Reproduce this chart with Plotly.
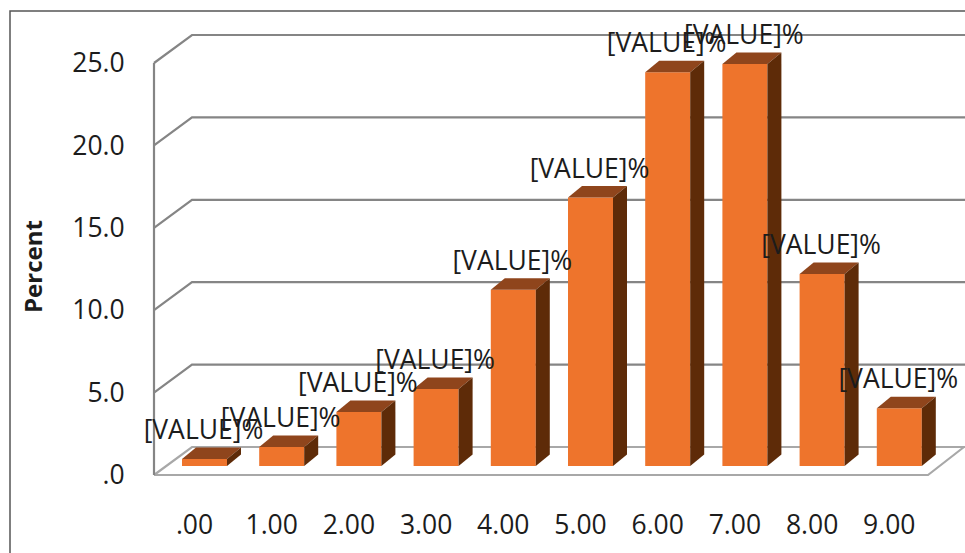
import plotly.graph_objects as go

categories = [".00", "1.00", "2.00", "3.00", "4.00", "5.00", "6.00", "7.00", "8.00", "9.00"]
percent = [0.42, 1.15, 3.28, 4.67, 10.7, 16.3, 23.9, 24.4, 11.65, 3.5]
label_text = "[VALUE]%"
y_ticks = [0, 5, 10, 15, 20, 25]
y_tick_labels = [".0", "5.0", "10.0", "15.0", "20.0", "25.0"]

W, H = 965, 553
L, R, T, B = 154, 928, 63, 475  # front plane, window pixels
X_STEP = 77.2          # px per category
Y_UNIT = (B - T) / 25  # px per percent
X0_PX = 192            # px of category 0 on the front plane
x_range = [-X0_PX / X_STEP, (W - X0_PX) / X_STEP]
y_range = [(B - H) / Y_UNIT, B / Y_UNIT]
x_left, x_right = (L - X0_PX) / X_STEP, (R - X0_PX) / X_STEP
x_end = (964 - X0_PX) / X_STEP
positions = list(range(len(categories)))
tick_positions = [p + 2.5 / X_STEP for p in positions]

# depth offsets, in data units
wall_dx, wall_dy = 38 / X_STEP, 28 / Y_UNIT
bar_dx, bar_base = 12.5 / X_STEP, 9 / Y_UNIT
bar_w = 45 / X_STEP
face_dx, face_dy = 14 / X_STEP, 11.5 / Y_UNIT

FONT = "Open Sans"
TXT = "#1c1c1c"
fig = go.Figure()

# wall gridlines (underlying axes)
for v in y_ticks:
    col = "#a8a8a8" if v == 0 else "#858585"
    fig.add_trace(go.Scatter(
        x=[x_left, x_left + wall_dx, x_end + 0.02], y=[v, v + wall_dy, v + wall_dy],
        mode="lines", line=dict(color=col, width=2.2),
        hoverinfo="skip", showlegend=False))
fig.add_trace(go.Scatter(
    x=[x_end, x_right, x_left], y=[wall_dy, 0, 0],
    mode="lines", line=dict(color="#a8a8a8", width=2.2),
    hoverinfo="skip", showlegend=False))
fig.add_trace(go.Scatter(
    x=[x_left, x_left], y=[0, 25],
    mode="lines", line=dict(color="#858585", width=2.2),
    hoverinfo="skip", showlegend=False))

# bars on an overlaying pair of axes so they cover the walls
bar_x = [p + bar_dx for p in positions]
fig.add_trace(go.Bar(
    x=bar_x, y=percent, base=[bar_base] * len(percent), width=bar_w,
    marker=dict(color="#ee742c", line=dict(width=0)),
    xaxis="x2", yaxis="y2", showlegend=False))
for x, v in zip(bar_x, percent):
    xl, xe = x - bar_w / 2, x + bar_w / 2
    top = bar_base + v
    fig.add_trace(go.Scatter(
        x=[xl, xl + face_dx, xe + face_dx, xe, xl],
        y=[top, top + face_dy, top + face_dy, top, top],
        mode="lines", fill="toself", fillcolor="#8f451c", line=dict(width=0),
        xaxis="x2", yaxis="y2", hoverinfo="skip", showlegend=False))
    fig.add_trace(go.Scatter(
        x=[xe, xe + face_dx, xe + face_dx, xe, xe],
        y=[top, top + face_dy, bar_base + face_dy, bar_base, top],
        mode="lines", fill="toself", fillcolor="#5e2b08", line=dict(width=0),
        xaxis="x2", yaxis="y2", hoverinfo="skip", showlegend=False))

fig.add_trace(go.Scatter(
    x=[x - 1 / X_STEP for x in bar_x], y=[bar_base + v + 26.5 / Y_UNIT for v in percent],
    mode="text", text=[label_text] * len(percent), textposition="middle center",
    textfont=dict(family=FONT, size=26.5, color=TXT),
    xaxis="x2", yaxis="y2", hoverinfo="skip", showlegend=False))

# picture frame, open to the right and bottom
fx0, fy0 = 10 / W, 1 - 11 / H
frame = f"M {fx0} -0.02 L {fx0} {fy0} L 1.02 {fy0}"

fig.update_layout(
    width=W, height=H, autosize=False,
    margin=dict(l=0, r=0, t=0, b=0, pad=0),
    paper_bgcolor="white", plot_bgcolor="rgba(0,0,0,0)",
    font=dict(family=FONT, color=TXT),
    shapes=[dict(type="path", path=frame, xref="paper", yref="paper",
                 line=dict(color="#555555", width=1.5))],
    annotations=[dict(text="<b>Percent</b>", textangle=-90, xref="paper", yref="paper",
                      x=33 / W, y=1 - 267 / H, xanchor="center", yanchor="middle",
                      showarrow=False, font=dict(family=FONT, size=24, color=TXT))],
    xaxis=dict(range=x_range, domain=[0, 1], anchor="free", position=(H - B) / H,
               tickmode="array", tickvals=tick_positions, ticktext=categories,
               ticks="outside", ticklen=26, tickcolor="rgba(0,0,0,0)", showgrid=False,
               zeroline=False, showline=False, tickfont=dict(family=FONT, size=26.5, color=TXT)),
    yaxis=dict(range=y_range, domain=[0, 1], anchor="free", position=L / W,
               tickmode="array", tickvals=y_ticks, ticktext=y_tick_labels,
               ticks="outside", ticklen=24, tickcolor="rgba(0,0,0,0)", showgrid=False,
               zeroline=False, showline=False, tickfont=dict(family=FONT, size=26.5, color=TXT)),
    xaxis2=dict(range=x_range, overlaying="x", visible=False),
    yaxis2=dict(range=y_range, overlaying="y", visible=False),
)
fig.write_html("out.html", config={"displayModeBar": False}, post_script=(
    "document.body.style.margin='0';"
    "document.documentElement.style.overflow='hidden';"))
